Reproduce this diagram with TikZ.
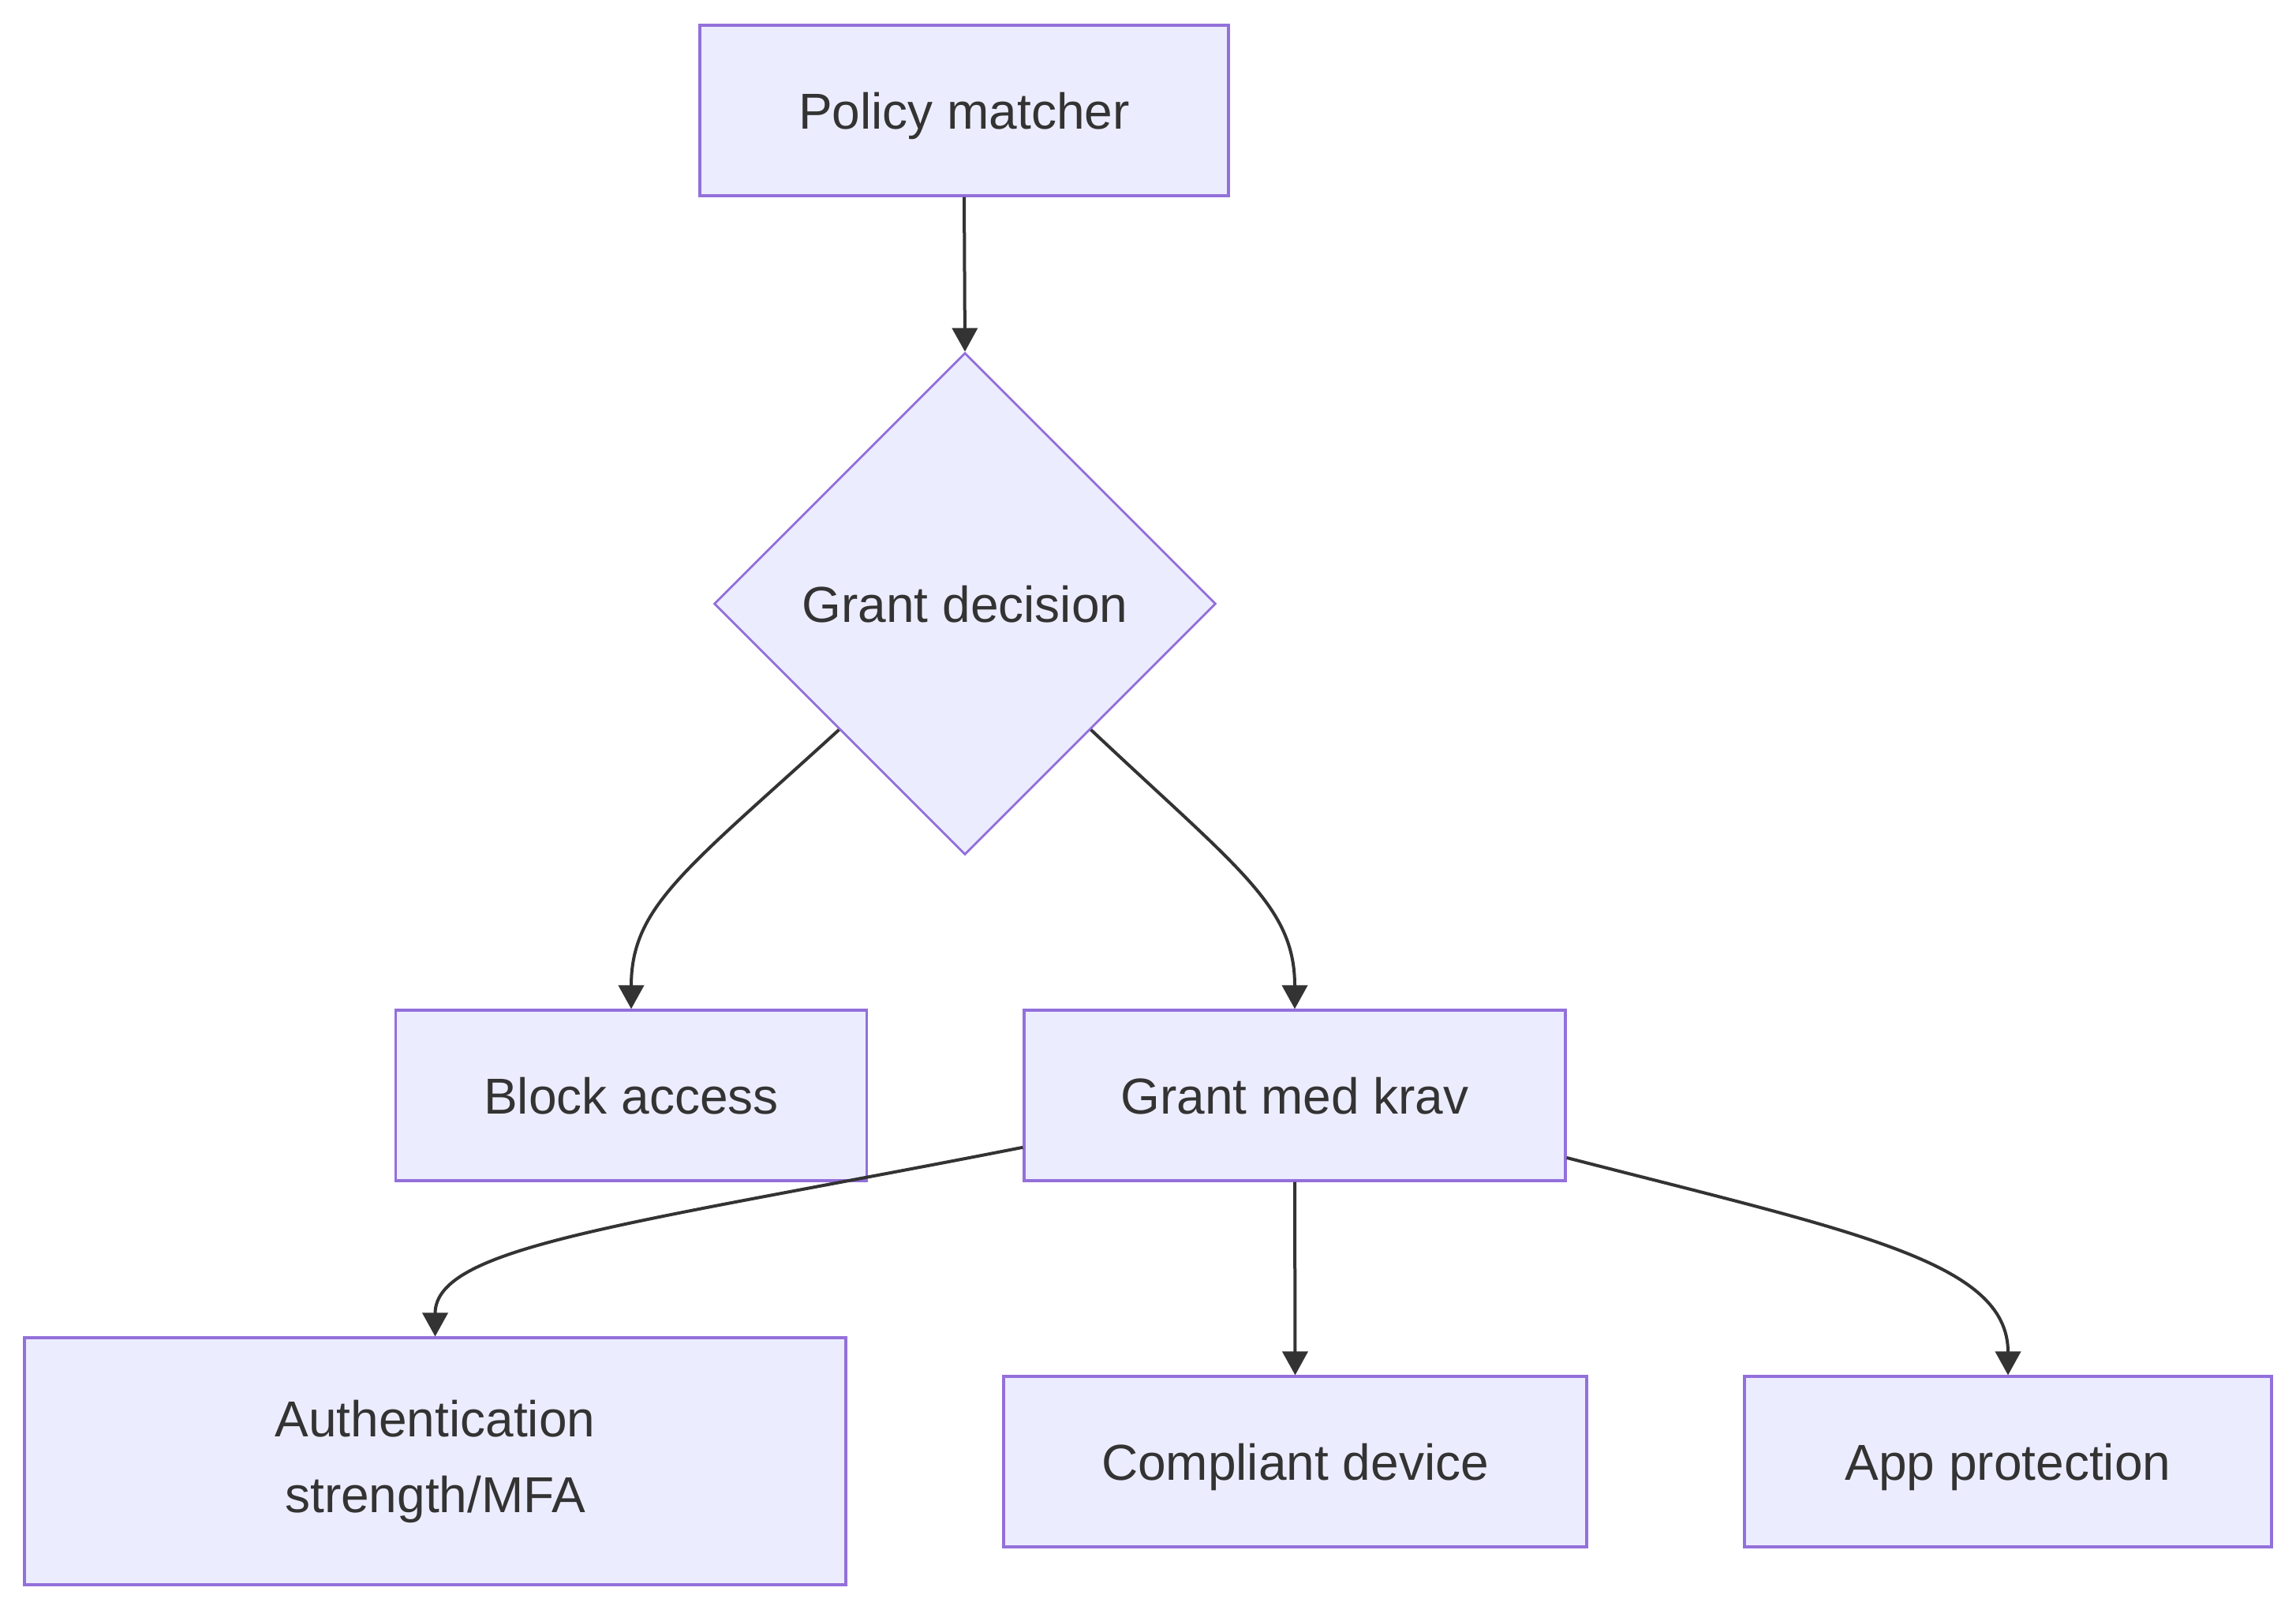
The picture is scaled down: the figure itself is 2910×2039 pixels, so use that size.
\documentclass[tikz,border=0pt]{standalone}
\usepackage{fontspec}
\setmainfont{Liberation Sans}
\usetikzlibrary{shapes.geometric,arrows.meta,calc}
\definecolor{nodefill}{HTML}{ECECFF}
\definecolor{nodeline}{HTML}{9370DB}
\definecolor{txt}{HTML}{333333}
\begin{document}
\begin{tikzpicture}[x=0.5pt,y=-0.5pt,
  basebox/.style={draw=nodeline,fill=nodefill,line width=1.6pt,text=txt,
    font=\fontsize{32}{48}\selectfont,inner sep=0pt,align=center,minimum height=108pt},
  box/.style={basebox,text height=23pt,text depth=0pt},
  dec/.style={diamond,draw=nodeline,fill=nodefill,line width=1.4pt,text=txt,
    font=\fontsize{32}{48}\selectfont,inner sep=0pt,minimum width=318pt,
    minimum height=318pt,aspect=1,text height=23pt,text depth=0pt},
  arr/.style={draw=txt,line width=2pt,-{Triangle[length=15pt,width=16pt]}}]
\fill[white] (0,0) rectangle (2910,2039);
\useasboundingbox (0,0) rectangle (2910,2039);

\node[box,minimum width=335pt] (pm) at (1222,140) {Policy matcher};
\node[dec] (gd) at (1223,765) {Grant decision};
\node[box,minimum width=298.5pt] (blk) at (800,1388) {Block access};
\node[box,minimum width=343pt] (gm) at (1641,1388) {Grant med krav};
\node[basebox,minimum width=520.5pt,minimum height=156.5pt] (auth) at (551.5,1851.5) {Authentication\\strength/MFA};
\node[box,minimum width=369.5pt] (cd) at (1641.5,1852) {Compliant device};
\node[box,minimum width=334pt] (app) at (2545,1852) {App protection};

\draw[arr] (pm.south) -- (gd.north);
\draw[arr] ($(gd.west)!0.5!(gd.south)$) .. controls +(-194,177) and +(0,-130) .. (blk.north);
\draw[arr] ($(gd.east)!0.5!(gd.south)$) .. controls +(188,177) and +(0,-130) .. (gm.north);
\draw[arr] ($(gm.south west)!0.2!(gm.north west)$) .. controls +(-499,98) and +(0,-115) .. (auth.north);
\draw[arr] (gm.south) -- (cd.north);
\draw[arr] ($(gm.south east)!0.14!(gm.north east)$) .. controls +(365,94) and +(0,-144) .. (app.north);
\end{tikzpicture}
\end{document}
